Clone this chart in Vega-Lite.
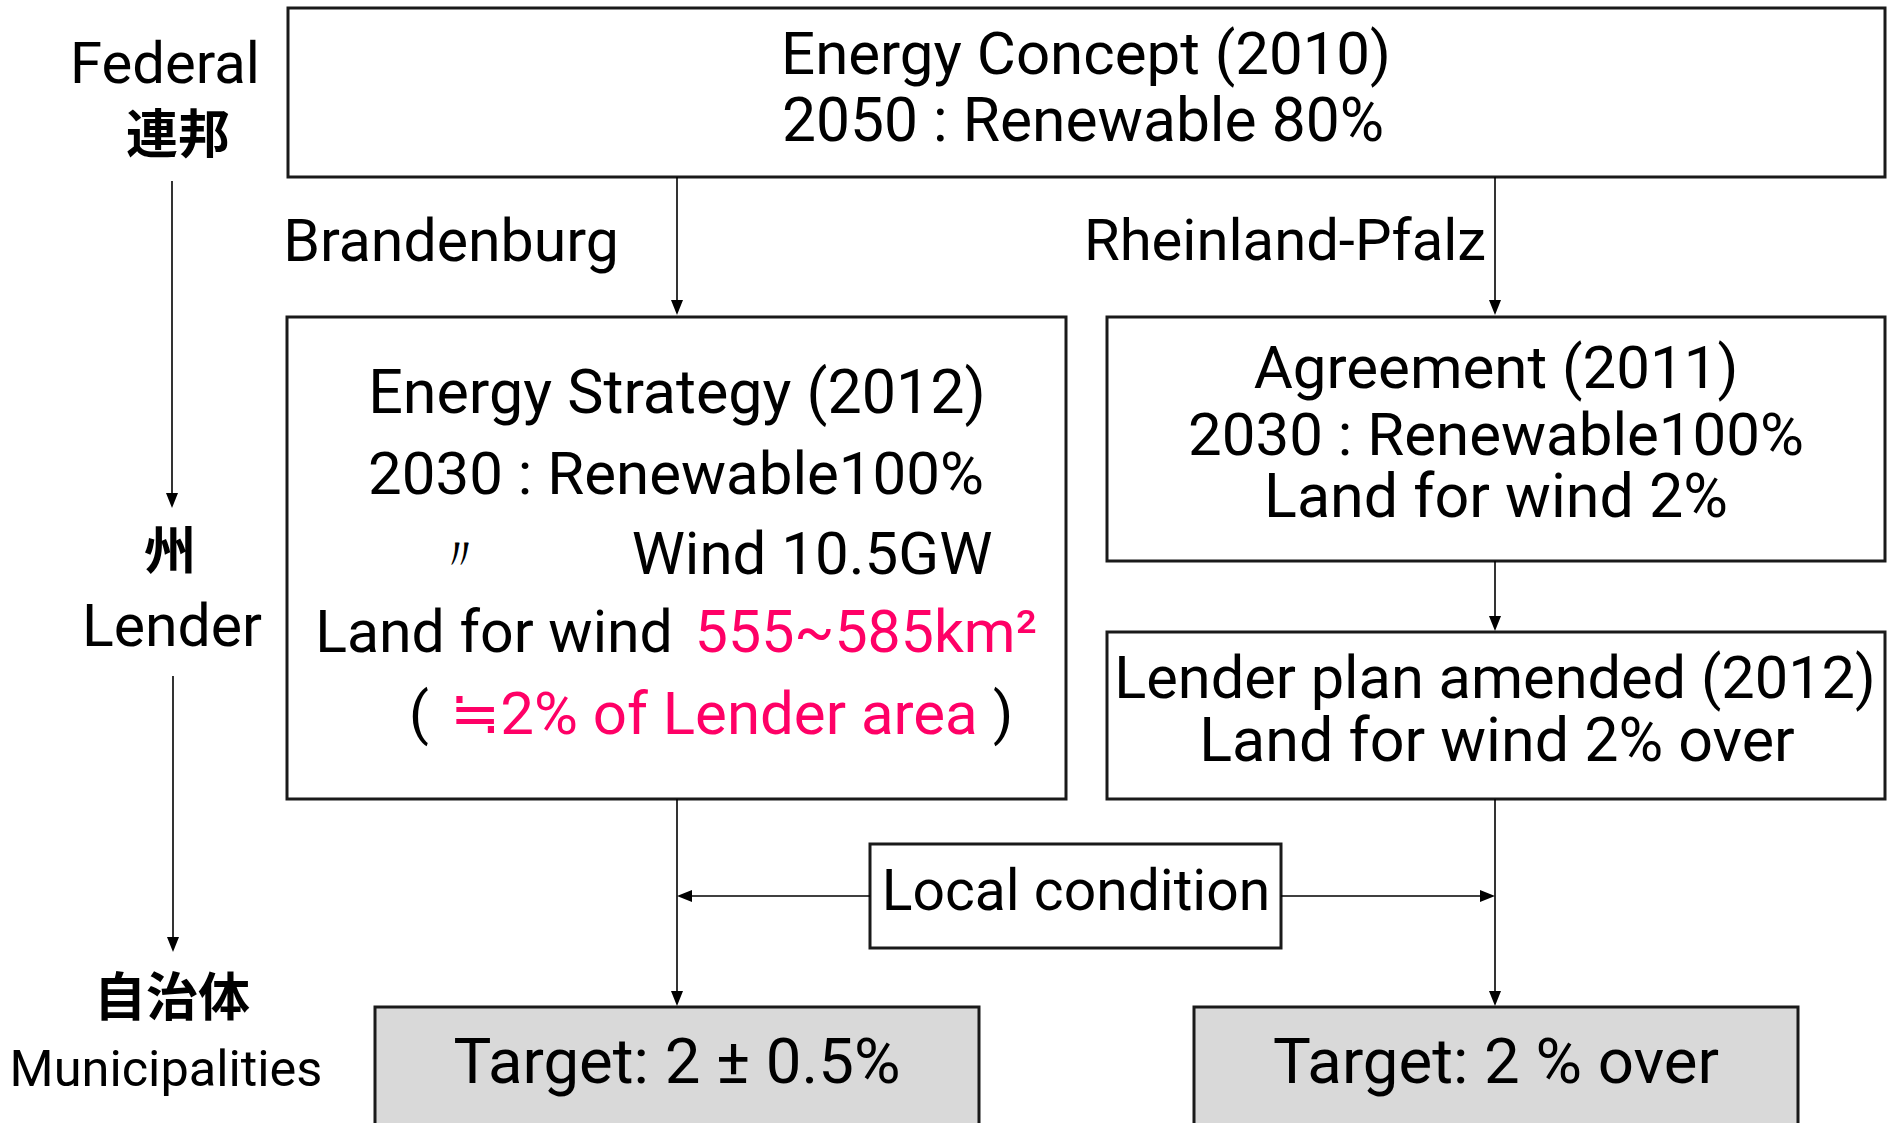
{
  "$schema": "https://vega.github.io/schema/vega-lite/v6.json",
  "width": 1888,
  "height": 1123,
  "padding": 0,
  "autosize": {"type": "fit", "contains": "padding"},
  "background": "#ffffff",
  "config": {"view": {"stroke": null}},
  "datasets": {
    "boxes": [
      {"name": "Federal", "x": 288, "x2": 1885, "y": 8, "y2": 177, "fill": "#ffffff"},
      {"name": "Brandenburg", "x": 287, "x2": 1066, "y": 317, "y2": 799, "fill": "#ffffff"},
      {"name": "RP agreement", "x": 1107, "x2": 1885, "y": 317, "y2": 561, "fill": "#ffffff"},
      {"name": "RP plan", "x": 1107, "x2": 1885, "y": 632, "y2": 799, "fill": "#ffffff"},
      {"name": "Local", "x": 870, "x2": 1281, "y": 844, "y2": 948, "fill": "#ffffff"},
      {"name": "Target B", "x": 375, "x2": 979, "y": 1007, "y2": 1140, "fill": "#d9d9d9"},
      {"name": "Target RP", "x": 1194, "x2": 1798, "y": 1007, "y2": 1140, "fill": "#d9d9d9"}
    ],
    "lines": [
      {"x": 172, "y": 181, "x2": 172, "y2": 500},
      {"x": 173, "y": 676, "x2": 173, "y2": 945},
      {"x": 677, "y": 177, "x2": 677, "y2": 308},
      {"x": 1495, "y": 177, "x2": 1495, "y2": 308},
      {"x": 1495, "y": 561, "x2": 1495, "y2": 624},
      {"x": 677, "y": 799, "x2": 677, "y2": 1000},
      {"x": 1495, "y": 799, "x2": 1495, "y2": 1000},
      {"x": 870, "y": 896, "x2": 684, "y2": 896},
      {"x": 1281, "y": 896, "x2": 1488, "y2": 896}
    ],
    "heads": [
      {"x": 172, "y": 508, "dir": "M0,0 L-0.4,-1 L0.4,-1 Z"},
      {"x": 173, "y": 952, "dir": "M0,0 L-0.4,-1 L0.4,-1 Z"},
      {"x": 677, "y": 315, "dir": "M0,0 L-0.4,-1 L0.4,-1 Z"},
      {"x": 1495, "y": 315, "dir": "M0,0 L-0.4,-1 L0.4,-1 Z"},
      {"x": 1495, "y": 631, "dir": "M0,0 L-0.4,-1 L0.4,-1 Z"},
      {"x": 677, "y": 1006, "dir": "M0,0 L-0.4,-1 L0.4,-1 Z"},
      {"x": 1495, "y": 1006, "dir": "M0,0 L-0.4,-1 L0.4,-1 Z"},
      {"x": 677, "y": 896, "dir": "M0,0 L1,-0.4 L1,0.4 Z"},
      {"x": 1495, "y": 896, "dir": "M0,0 L-1,-0.4 L-1,0.4 Z"}
    ],
    "texts": [
      {"t": "Energy Concept (2010)", "x": 1086, "y": 56, "s": 60, "c": "#000000"},
      {"t": "2050 : Renewable 80%", "x": 1083, "y": 123, "s": 60.5, "c": "#000000"},
      {"t": "Brandenburg", "x": 451, "y": 243, "s": 59, "c": "#000000"},
      {"t": "Rheinland-Pfalz", "x": 1285, "y": 243, "s": 58, "c": "#000000"},
      {"t": "Energy Strategy (2012)", "x": 677, "y": 395, "s": 61, "c": "#000000"},
      {"t": "2030 : Renewable100%", "x": 676, "y": 476, "s": 60, "c": "#000000"},
      {"t": "〃", "x": 460, "y": 556, "s": 46, "c": "#000000"},
      {"t": "Wind 10.5GW", "x": 812, "y": 556, "s": 60, "c": "#000000"},
      {"t": "Land for wind", "x": 494, "y": 634, "s": 59, "c": "#000000"},
      {"t": "555~585km²", "x": 866, "y": 634, "s": 59, "c": "#ff0066"},
      {"t": "(", "x": 419, "y": 716, "s": 58, "c": "#000000"},
      {"t": "≒2% of Lender area", "x": 714, "y": 716, "s": 60, "c": "#ff0066"},
      {"t": ")", "x": 1003, "y": 716, "s": 58, "c": "#000000"},
      {"t": "Agreement (2011)", "x": 1496, "y": 370, "s": 60, "c": "#000000"},
      {"t": "2030 : Renewable100%", "x": 1496, "y": 437, "s": 60, "c": "#000000"},
      {"t": "Land for wind 2%", "x": 1496, "y": 499, "s": 61, "c": "#000000"},
      {"t": "Lender plan amended (2012)", "x": 1495, "y": 680, "s": 59.5, "c": "#000000"},
      {"t": "Land for wind 2% over", "x": 1497, "y": 743, "s": 61, "c": "#000000"},
      {"t": "Local condition", "x": 1076, "y": 893, "s": 57, "c": "#000000"},
      {"t": "Target: 2 ± 0.5%", "x": 677, "y": 1064, "s": 63.5, "c": "#000000"},
      {"t": "Target: 2 % over", "x": 1496, "y": 1064, "s": 63.5, "c": "#000000"},
      {"t": "Federal", "x": 165, "y": 66, "s": 58, "c": "#000000"},
      {"t": "Lender", "x": 172, "y": 628, "s": 59, "c": "#000000"},
      {"t": "Municipalities", "x": 166, "y": 1071, "s": 50.5, "c": "#000000"}
    ],
    "cjk": [
      {"t": "連邦", "x": 178, "y": 137},
      {"t": "州", "x": 170, "y": 554},
      {"t": "自治体", "x": 172, "y": 1000}
    ]
  },
  "encoding": {
    "x": {"field": "x", "type": "quantitative", "scale": {"domain": [0, 1888], "nice": false, "zero": false}, "axis": null},
    "y": {"field": "y", "type": "quantitative", "scale": {"domain": [0, 1123], "nice": false, "zero": false, "reverse": true}, "axis": null}
  },
  "layer": [
    {
      "data": {"name": "boxes"},
      "mark": {"type": "rect", "stroke": "#1a1a1a", "strokeWidth": 3, "clip": true},
      "encoding": {
        "x2": {"field": "x2"},
        "y2": {"field": "y2"},
        "fill": {"field": "fill", "type": "nominal", "scale": null}
      }
    },
    {
      "data": {"name": "lines"},
      "mark": {"type": "rule", "color": "#000000", "strokeWidth": 1.6},
      "encoding": {
        "x2": {"field": "x2"},
        "y2": {"field": "y2"}
      }
    },
    {
      "data": {"name": "heads"},
      "mark": {"type": "point", "filled": true, "color": "#000000", "opacity": 1, "size": 900, "strokeWidth": 0},
      "encoding": {
        "shape": {"field": "dir", "type": "nominal", "scale": null}
      }
    },
    {
      "data": {"name": "texts"},
      "mark": {"type": "text", "font": "Roboto", "align": "center", "baseline": "middle"},
      "encoding": {
        "text": {"field": "t", "type": "nominal"},
        "size": {"field": "s", "type": "quantitative", "scale": null},
        "color": {"field": "c", "type": "nominal", "scale": null}
      }
    },
    {
      "data": {"name": "cjk"},
      "mark": {"type": "text", "font": "Noto Sans CJK JP", "fontWeight": "bold", "align": "center", "baseline": "middle", "fontSize": 52, "color": "#000000"},
      "encoding": {
        "text": {"field": "t", "type": "nominal"}
      }
    }
  ]
}
